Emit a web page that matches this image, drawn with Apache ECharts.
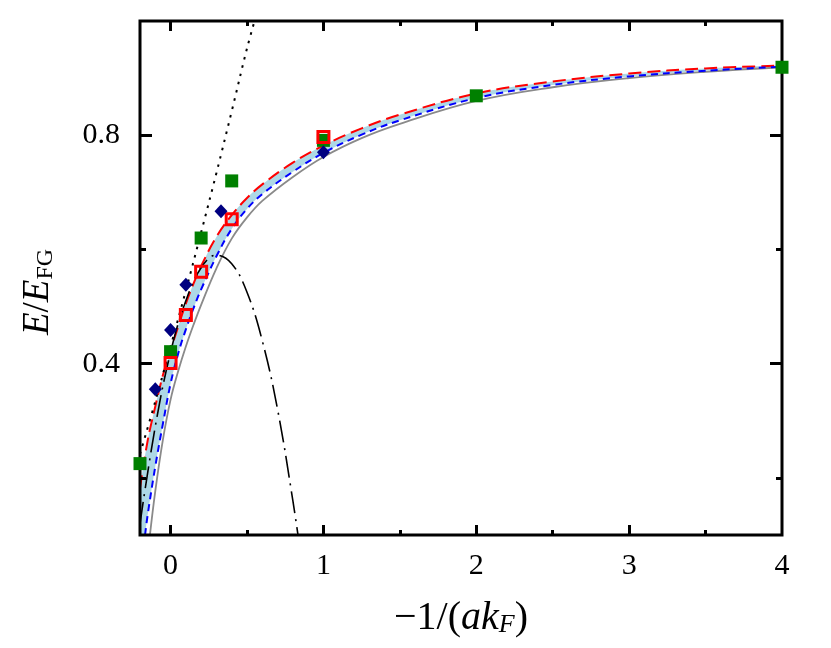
<!DOCTYPE html>
<html>
<head>
<meta charset="utf-8">
<script src="https://cdn.jsdelivr.net/npm/echarts@6/dist/echarts.min.js"></script>
<style>
html,body{margin:0;padding:0;background:#fff;}
#chart{width:831px;height:648px;}
</style>
</head>
<body>
<div id="chart"></div>
<script>
// ---- data ----
const xTickMajor = [0, 1, 2, 3];
const xTickMinor = [0.5, 1.5, 2.5, 3.5];
const xTickLabels = [0, 1, 2, 3, 4];
const yTickMajor = [0.4, 0.8];
const yTickMinor = [0.2, 0.6];

// red long-dashed curve (upper edge of band)
const redX = [-0.2, -0.15, -0.1, -0.05, 0, 0.05, 0.1, 0.15, 0.2, 0.3, 0.4, 0.5, 0.6, 0.8, 1.0, 1.25, 1.5, 2.0, 2.5, 3.0, 3.5, 4.0];
const redY = [0.182, 0.265, 0.325, 0.38, 0.423, 0.465, 0.505, 0.54, 0.571, 0.622, 0.66, 0.69, 0.714, 0.752, 0.782, 0.812, 0.836, 0.873, 0.894, 0.908, 0.917, 0.922];

// blue short-dashed curve (lower edge of band)
const blueX = [-0.167, -0.15, -0.1, -0.05, 0, 0.05, 0.1, 0.15, 0.2, 0.3, 0.4, 0.5, 0.6, 0.8, 1.0, 1.25, 1.5, 2.0, 2.5, 3.0, 3.5, 4.0];
const blueY = [0.1, 0.135, 0.22, 0.295, 0.365, 0.418, 0.46, 0.497, 0.53, 0.588, 0.636, 0.671, 0.697, 0.736, 0.769, 0.801, 0.826, 0.865, 0.888, 0.903, 0.913, 0.92];

// gray solid curve
const grayX = [-0.135, -0.1, -0.05, 0, 0.05, 0.1, 0.15, 0.2, 0.3, 0.4, 0.5, 0.6, 0.8, 1.0, 1.25, 1.5, 2.0, 2.5, 3.0, 3.5, 4.0];
const grayY = [0.1, 0.177, 0.267, 0.337, 0.387, 0.43, 0.468, 0.503, 0.567, 0.619, 0.656, 0.685, 0.727, 0.762, 0.795, 0.82, 0.86, 0.884, 0.9, 0.911, 0.919];

// black dotted line
const dotX = [-0.2, -0.1, 0, 0.1, 0.2, 0.3, 0.4, 0.5, 0.56];
const dotY = [0.242, 0.334, 0.43, 0.528, 0.63, 0.734, 0.842, 0.952, 1.01];

// black dash-dot parabola
const ddX = [-0.2, -0.1, 0, 0.1, 0.2, 0.3, 0.4, 0.5, 0.6, 0.7, 0.8, 0.86];
const ddY = [0.12, 0.29, 0.42, 0.51, 0.568, 0.59, 0.575, 0.525, 0.44, 0.32, 0.16, 0.05];

// green filled squares
const greenX = [-0.2, 0, 0.2, 0.4, 1, 2, 4];
const greenY = [0.225, 0.421, 0.62, 0.72, 0.791, 0.869, 0.919];

// red open squares
const redSqX = [0, 0.1, 0.2, 0.4, 1];
const redSqY = [0.401, 0.485, 0.561, 0.653, 0.797];

// navy diamonds
const navyX = [-0.1, 0, 0.1, 0.33, 1];
const navyY = [0.355, 0.459, 0.538, 0.667, 0.77];

const pairs = (xs, ys) => xs.map((x, i) => [x, ys[i]]);

const FONT = 'Liberation Serif';
const chart = echarts.init(document.getElementById('chart'), null, {renderer: 'canvas'});

const richStyles = (size, subSize, subItalic) => ({
  n: {fontFamily: FONT, fontSize: size, color: '#000', lineHeight: 40, verticalAlign: 'middle'},
  i: {fontFamily: FONT, fontSize: size, fontStyle: 'italic', color: '#000', lineHeight: 40, verticalAlign: 'middle'},
  s: {fontFamily: FONT, fontSize: subSize, fontStyle: subItalic ? 'italic' : 'normal', color: '#000', lineHeight: 16, verticalAlign: 'bottom'}
});

const mkX = (pos, ticks, len, labels, name) => ({
  type: 'value', position: pos, min: -0.2, max: 4, gridIndex: 0, z: 5,
  axisLine: {show: false, onZero: false},
  axisTick: {show: true, inside: true, length: len, customValues: ticks, lineStyle: {color: '#000', width: 3}},
  axisLabel: labels ? {show: true, customValues: labels, margin: 16, color: '#000', fontFamily: FONT, fontSize: 30} : {show: false},
  splitLine: {show: false},
  name: name || '',
  nameLocation: 'middle',
  nameGap: 63,
  nameTextStyle: {color: '#000', fontFamily: FONT, fontSize: 40, rich: richStyles(40, 26, true)}
});

const mkY = (pos, ticks, len, labels, name) => ({
  type: 'value', position: pos, min: 0.1, max: 1.0, gridIndex: 0, z: 5,
  axisLine: {show: false, onZero: false},
  axisTick: {show: true, inside: true, length: len, customValues: ticks, lineStyle: {color: '#000', width: 3}},
  axisLabel: labels ? {show: true, customValues: labels, margin: 20, color: '#000', fontFamily: FONT, fontSize: 30,
    formatter: v => v.toFixed(1)} : {show: false},
  splitLine: {show: false},
  name: name || '',
  nameLocation: 'middle',
  nameRotate: 90,
  nameGap: 82,
  nameTextStyle: {color: '#000', fontFamily: FONT, fontSize: 37, padding: [0, 28, 0, 0], rich: richStyles(37, 24, false)}
});

const lineBase = {type: 'line', showSymbol: false, symbol: 'none', smooth: 0.4, clip: true, xAxisIndex: 0, yAxisIndex: 0, z: 2};

const option = {
  animation: false,
  backgroundColor: '#fff',
  grid: {left: 140, right: 49, top: 21, bottom: 113, show: true, borderColor: '#000', borderWidth: 3, backgroundColor: 'rgba(0,0,0,0)', z: 5},
  xAxis: [
    mkX('bottom', xTickMajor, 10, xTickLabels, '{n|\u22121/(}{i|ak}{s|F}{n|)}'),
    mkX('bottom', xTickMinor, 5, null),
    mkX('top', xTickMajor, 10, null),
    mkX('top', xTickMinor, 5, null)
  ],
  yAxis: [
    mkY('left', yTickMajor, 12, yTickMajor, '{i|E}{n|/}{i|E}{s|FG}'),
    mkY('left', yTickMinor, 6, null),
    mkY('right', yTickMajor, 12, null),
    mkY('right', yTickMinor, 6, null)
  ],
  series: [
    Object.assign({}, lineBase, {name: 'bandTop', data: pairs(redX, redY), z: 1,
      lineStyle: {width: 0, opacity: 0}, areaStyle: {color: '#add8e6', opacity: 1, origin: 'start'}}),
    Object.assign({}, lineBase, {name: 'bandBottom', data: pairs(blueX, blueY), z: 1,
      lineStyle: {width: 0, opacity: 0}, areaStyle: {color: '#ffffff', opacity: 1, origin: 'start'}}),
    Object.assign({}, lineBase, {name: 'gray', data: pairs(grayX, grayY),
      lineStyle: {color: '#8a8a8a', width: 1.8, type: 'solid'}}),
    Object.assign({}, lineBase, {name: 'red', data: pairs(redX, redY),
      lineStyle: {color: '#ff0000', width: 2, type: [13, 6]}}),
    Object.assign({}, lineBase, {name: 'blue', data: pairs(blueX, blueY),
      lineStyle: {color: '#0000ff', width: 2, type: [7, 5]}}),
    Object.assign({}, lineBase, {name: 'dotted', data: pairs(dotX, dotY),
      lineStyle: {color: '#000', width: 2, type: [2.5, 6]}}),
    Object.assign({}, lineBase, {name: 'dashdot', data: pairs(ddX, ddY),
      lineStyle: {color: '#000', width: 1.6, type: [22, 6, 2, 6]}}),
    {type: 'scatter', name: 'green', data: pairs(greenX, greenY), symbol: 'rect', symbolSize: 13, z: 8,
      itemStyle: {color: '#008000', opacity: 1}, clip: false},
    {type: 'scatter', name: 'redSq', data: pairs(redSqX, redSqY), symbol: 'rect', symbolSize: 11, z: 9,
      itemStyle: {color: 'rgba(0,0,0,0)', borderColor: '#ff0000', borderWidth: 3, opacity: 1}, clip: false},
    {type: 'scatter', name: 'navy', data: pairs(navyX, navyY), symbol: 'diamond', symbolSize: [13, 14], z: 10,
      itemStyle: {color: '#000080', opacity: 1}, clip: false}
  ]
};
chart.setOption(option);
</script>
</body>
</html>
